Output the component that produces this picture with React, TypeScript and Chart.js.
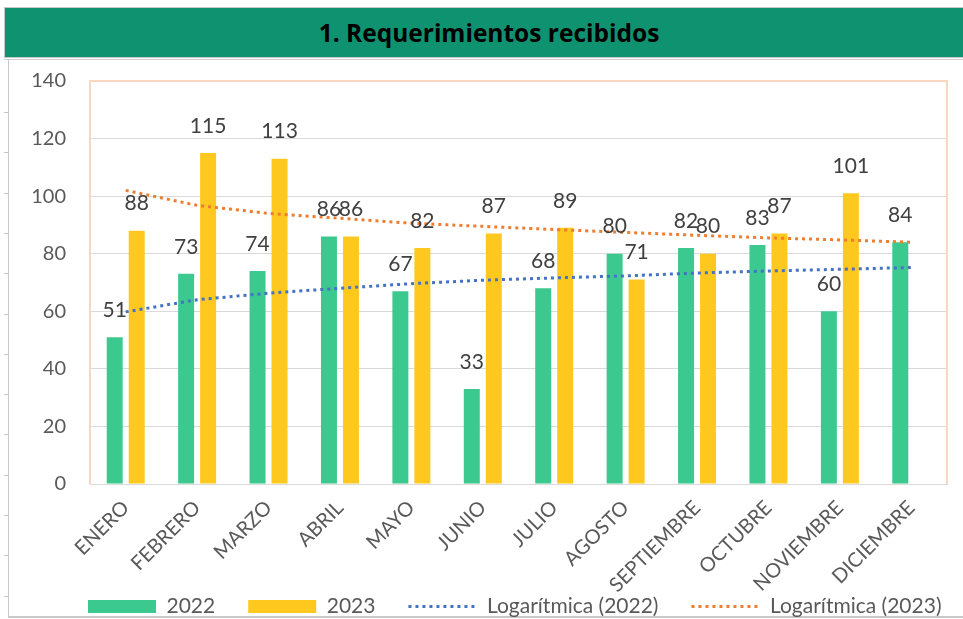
import React, { useEffect, useRef } from "react";
import { Chart, registerables } from "chart.js";

Chart.register(...registerables);

const months = [
  "ENERO", "FEBRERO", "MARZO", "ABRIL", "MAYO", "JUNIO",
  "JULIO", "AGOSTO", "SEPTIEMBRE", "OCTUBRE", "NOVIEMBRE", "DICIEMBRE",
];
const values2022 = [51, 73, 74, 86, 67, 33, 68, 80, 82, 83, 60, 84];
const values2023 = [88, 115, 113, 86, 82, 87, 89, 71, 80, 87, 101, null];
const trend2022 = [59.8, 64, 66.3, 68, 69.6, 70.8, 71.6, 72.3, 73.3, 74, 74.6, 75.2];
const trend2023 = [102, 96.8, 94, 92.3, 90.6, 89.5, 88.4, 87.4, 86.4, 85.5, 84.8, 84];
const seriesNames = ["2022", "2023", "Logarítmica (2022)", "Logarítmica (2023)"];
const yMin = 0;
const yMax = 140;
const yStep = 20;

const GREEN = "#3CC98F";
const YELLOW = "#FFC81E";
const BLUE = "#4472C4";
const ORANGE = "#ED7D31";
const FONT = "Lato, 'Open Sans', sans-serif";

const valueLabels = {
  id: "valueLabels",
  afterDatasetsDraw(chart: any) {
    const ctx = chart.ctx;
    ctx.save();
    ctx.font = `21px ${FONT}`;
    ctx.fillStyle = "#404040";
    ctx.textAlign = "center";
    ctx.textBaseline = "middle";
    [0, 1].forEach((di) => {
      const meta = chart.getDatasetMeta(di);
      meta.data.forEach((el: any, i: number) => {
        const v = chart.data.datasets[di].data[i];
        if (v == null) return;
        ctx.fillText(String(v), el.x, el.y - 27);
      });
    });
    ctx.restore();
  },
};

const plotFrame = {
  id: "plotFrame",
  beforeDatasetsDraw(chart: any) {
    const { left, top, right, bottom } = chart.chartArea;
    const ctx = chart.ctx;
    ctx.save();
    ctx.strokeStyle = "#F9D6C0";
    ctx.lineWidth = 2;
    ctx.beginPath();
    ctx.moveTo(left, bottom);
    ctx.lineTo(left, top);
    ctx.lineTo(right, top);
    ctx.lineTo(right, bottom);
    ctx.stroke();
    ctx.restore();
  },
};

const legendShift = {
  id: "legendShift",
  afterLayout(chart: any) {
    if (chart.legend) {
      const w = chart.legend.right - chart.legend.left;
      chart.legend.left = 47;
      chart.legend.right = 47 + w;
    }
  },
};

function ChartCanvas() {
  const ref = useRef<HTMLCanvasElement>(null);
  useEffect(() => {
    if (!ref.current) return;
    const cols = [GREEN, YELLOW, BLUE, ORANGE];
    const chart = new Chart(ref.current, {
      type: "bar",
      data: {
        labels: months,
        datasets: [
          {
            type: "bar",
            label: seriesNames[0],
            data: values2022,
            backgroundColor: GREEN,
            borderWidth: 0,
            categoryPercentage: 0.616,
            barPercentage: 0.727,
            order: 2,
          },
          {
            type: "bar",
            label: seriesNames[1],
            data: values2023,
            backgroundColor: YELLOW,
            borderWidth: 0,
            categoryPercentage: 0.616,
            barPercentage: 0.727,
            order: 2,
          },
          {
            type: "line",
            label: seriesNames[2],
            data: trend2022,
            borderColor: BLUE,
            backgroundColor: BLUE,
            borderWidth: 3,
            borderDash: [3, 4],
            pointRadius: 0,
            tension: 0,
            order: 1,
          },
          {
            type: "line",
            label: seriesNames[3],
            data: trend2023,
            borderColor: ORANGE,
            backgroundColor: ORANGE,
            borderWidth: 3,
            borderDash: [3, 4],
            pointRadius: 0,
            tension: 0,
            order: 1,
          },
        ] as any,
      },
      options: {
        animation: false,
        responsive: false,
        maintainAspectRatio: false,
        layout: { padding: { left: 0, right: 16, top: 21, bottom: 0 } },
        scales: {
          x: {
            grid: { display: false, drawTicks: false },
            border: { display: true, color: "#D9D9D9", width: 1 },
            ticks: {
              color: "#595959",
              font: { family: FONT, size: 20 },
              minRotation: 45,
              maxRotation: 45,
              padding: 12,
              autoSkip: false,
            },
            afterFit(scale: any) {
              const legendH = scale.chart.legend ? scale.chart.legend.height : 0;
              scale.height = scale.chart.height - 424 - legendH;
              scale.paddingLeft = 0;
              scale.paddingRight = 0;
              // let the slanted month names run past the axis box, as in the original
              scale._computeLabelArea = () => undefined;
            },
          },
          y: {
            min: yMin,
            max: yMax,
            grid: { color: "#D9D9D9", lineWidth: 1, drawTicks: false },
            border: { display: false },
            ticks: {
              stepSize: yStep,
              color: "#595959",
              font: { family: FONT, size: 20 },
              padding: 24,
            },
            afterFit(scale: any) {
              scale.width = 82;
              scale.paddingTop = 0;
              scale.paddingBottom = 0;
            },
          },
        },
        plugins: {
          title: { display: false },
          tooltip: { enabled: false },
          legend: {
            position: "bottom",
            align: "start",
            labels: {
              color: "#595959",
              font: { family: FONT, size: 21 },
              usePointStyle: true,
              pointStyleWidth: 68,
              boxHeight: 13,
              padding: 33,
              sort: (a: any, b: any) => a.datasetIndex - b.datasetIndex,
              generateLabels: (c: any) => {
                const items = (Chart.defaults.plugins.legend.labels as any).generateLabels(c);
                return items.map((it: any) => {
                  const i = it.datasetIndex;
                  return i < 2
                    ? { ...it, pointStyle: "rect", lineWidth: 0, fillStyle: cols[i], strokeStyle: cols[i] }
                    : { ...it, pointStyle: "line", lineWidth: 3, lineDash: [3, 4], strokeStyle: cols[i], fillStyle: cols[i] };
                });
              },
            },
          },
        },
      } as any,
      plugins: [plotFrame, valueLabels, legendShift],
    });
    return () => chart.destroy();
  }, []);
  return <canvas ref={ref} width={955} height={567} style={{ display: "block" }} />;
}

export default function App() {
  const ticks = Array.from({ length: 13 }, (_, k) => 112 + k * 40.3);
  return (
    <div
      style={{
        position: "absolute",
        left: 0,
        top: 0,
        width: 963,
        height: 619,
        overflow: "hidden",
        background: "#fff",
      }}
    >
      <div
        style={{
          position: "absolute",
          left: 4,
          top: 7,
          width: 960,
          height: 51,
          background: "#0F9270",
          border: "1px solid #C8C8C8",
          boxSizing: "border-box",
        }}
      />
      <div
        style={{
          position: "absolute",
          left: 14,
          top: 8,
          width: 950,
          height: 50,
          lineHeight: "50px",
          textAlign: "center",
          fontFamily: "'Open Sans', sans-serif",
          fontWeight: "bold",
          fontSize: 24.5,
          color: "#000",
        }}
      >
        1. Requerimientos recibidos
      </div>
      <div style={{ position: "absolute", left: 4, top: 59, width: 959, height: 1, background: "#D0D0D0" }} />
      <div style={{ position: "absolute", left: 8, top: 60, width: 1, height: 557, background: "#C8C8C8" }} />
      <div style={{ position: "absolute", left: 8, top: 616, width: 955, height: 2, background: "#C8C8C8" }} />
      {ticks.map((t, k) => (
        <div key={k} style={{ position: "absolute", left: 4, top: Math.round(t), width: 4, height: 1, background: "#C8C8C8" }} />
      ))}
      <div style={{ position: "absolute", left: 8, top: 60 }}>
        <ChartCanvas />
      </div>
    </div>
  );
}
